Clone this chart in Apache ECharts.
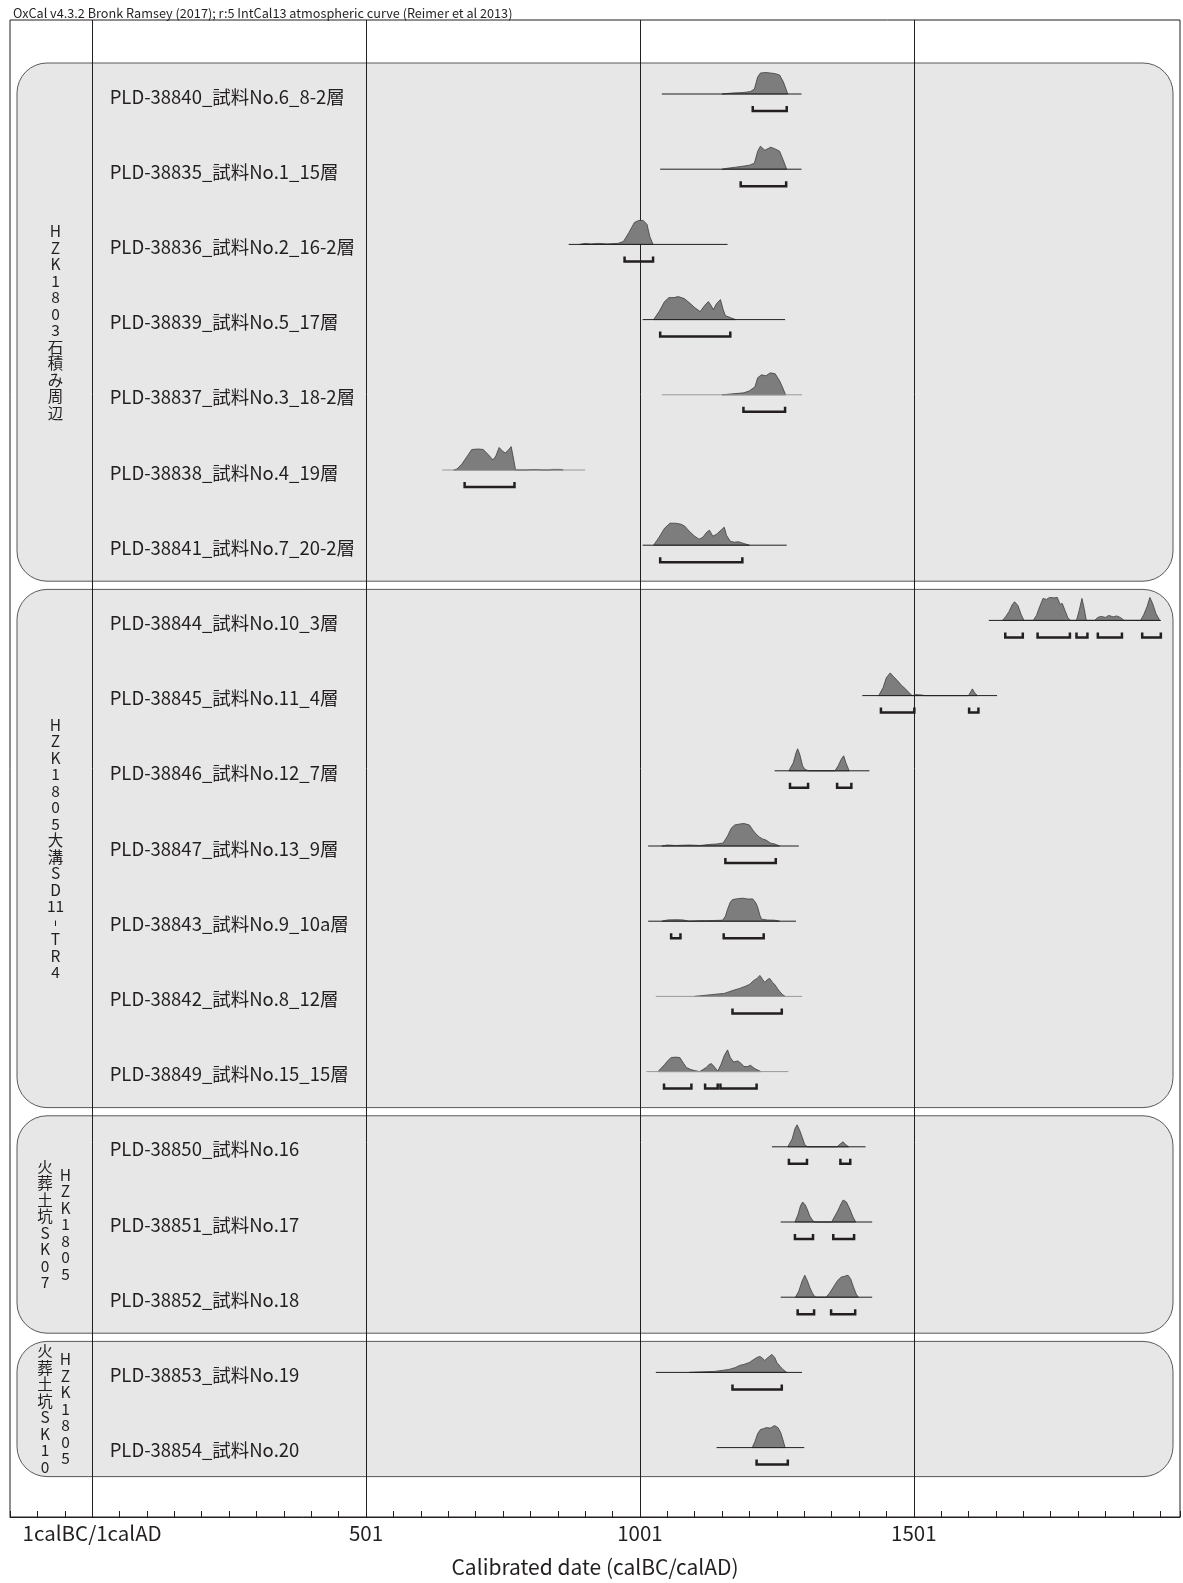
<!DOCTYPE html>
<html><head><meta charset="utf-8">
<script src="https://cdn.jsdelivr.net/npm/echarts@6.0.0/dist/echarts.min.js"></script>
<style>html,body{margin:0;padding:0;background:#fff}#c{width:1183px;height:1583px}</style>
</head><body><div id="c"></div>
<script>
// ---------- DATA ----------
const headerText = 'OxCal v4.3.2 Bronk Ramsey (2017); r:5 IntCal13 atmospheric curve (Reimer et al 2013)';
const axisTitle = 'Calibrated date (calBC/calAD)';
const tickValues = [0, 500, 1000, 1500];
const tickLabels = ['1calBC/1calAD', '501', '1001', '1501'];

const sampleNames = [
  'PLD-38840_試料No.6_8-2層', 'PLD-38835_試料No.1_15層', 'PLD-38836_試料No.2_16-2層',
  'PLD-38839_試料No.5_17層', 'PLD-38837_試料No.3_18-2層', 'PLD-38838_試料No.4_19層',
  'PLD-38841_試料No.7_20-2層', 'PLD-38844_試料No.10_3層', 'PLD-38845_試料No.11_4層',
  'PLD-38846_試料No.12_7層', 'PLD-38847_試料No.13_9層', 'PLD-38843_試料No.9_10a層',
  'PLD-38842_試料No.8_12層', 'PLD-38849_試料No.15_15層', 'PLD-38850_試料No.16',
  'PLD-38851_試料No.17', 'PLD-38852_試料No.18', 'PLD-38853_試料No.19', 'PLD-38854_試料No.20'
];
// plotted range of each distribution (calendar years)
const rangeStart = [1040, 1037, 870, 1005, 1040, 639, 1005, 1637, 1406, 1246, 1015, 1015, 1029, 1012, 1241, 1257, 1257, 1029, 1140];
const rangeEnd   = [1295, 1295, 1160, 1265, 1296, 900, 1268, 1951, 1652, 1419, 1290, 1285, 1296, 1271, 1412, 1424, 1424, 1296, 1300];

// probability density outlines: [year, relative height]
const dens38840 = [[1150,0],[1169,1],[1190,1.5],[1202,2.5],[1209,5],[1215,17],[1220,21],[1230,21.5],[1238,21],[1246,20.5],[1255,19],[1262,12],[1270,0]];
const dens38835 = [[1150,0],[1160,1],[1175,2],[1188,3],[1200,4],[1209,6],[1215,18],[1220,23],[1228,19],[1239,22],[1248,20],[1255,18],[1261,10],[1268,0]];
const dens38836 = [[890,0],[900,1],[910,0.5],[925,1],[940,0.5],[960,1],[970,3],[980,12],[990,22],[998,24],[1006,24],[1013,20],[1018,8],[1024,0]];
const dens38839 = [[1025,0],[1035,8],[1045,18],[1053,22],[1062,22],[1070,23],[1081,21],[1090,17],[1100,12],[1110,8],[1118,14],[1125,18],[1130,14],[1134,10],[1140,16],[1147,20],[1152,10],[1156,4],[1165,2],[1175,0]];
const dens38837 = [[1150,0],[1170,1],[1190,2],[1200,4],[1210,8],[1215,17],[1222,20],[1230,19],[1238,22],[1247,21],[1255,14],[1260,8],[1266,0]];
const dens38838 = [[660,0],[666,1],[675,6],[685,14],[693,20.5],[705,21],[714,20.5],[722,16],[732,10],[737,14],[743,22.5],[749,19],[754,17],[760,20],[765,23.4],[769,12],[773,0],[795,0],[800,0.5],[815,0.5],[820,0],[835,0],[840,0.6],[855,0.6],[860,0]];
const dens38841 = [[1025,0],[1035,8],[1045,17],[1055,22],[1065,22],[1075,21],[1082,19],[1090,14],[1100,9],[1108,6],[1115,8],[1122,13],[1127,15],[1133,9],[1140,11],[1148,15],[1154,18],[1158,10],[1165,4],[1172,3],[1180,3.5],[1188,2],[1200,0]];
const dens38844 = [[1662,0],[1668,4],[1674,9],[1680,16],[1684,18.6],[1690,15],[1696,6],[1701,0],[1718,0],[1724,5],[1730,14],[1736,22],[1742,21],[1748,23],[1756,22.5],[1762,23],[1767,16],[1771,17],[1776,10],[1781,3],[1786,0],[1797,0],[1802,10],[1807,22],[1811,12],[1815,0],[1830,0],[1836,3],[1842,4],[1850,3],[1856,5],[1864,3.5],[1870,4.5],[1877,3],[1884,0],[1914,0],[1920,6],[1926,14],[1931,23],[1936,17],[1942,7],[1949,0]];
const dens38845 = [[1436,0],[1444,8],[1450,18],[1457,22.7],[1463,19],[1470,15],[1478,10],[1485,6.7],[1491,3],[1497,0],[1503,1],[1516,0.5],[1520,0],[1600,0],[1607,6.7],[1611,3],[1616,0]];
const dens38846 = [[1272,0],[1280,8],[1285,18],[1288,22],[1292,16],[1297,5],[1301,1.5],[1308,0],[1356,0],[1362,5],[1368,12],[1372,15],[1376,8],[1382,0]];
const dens38847 = [[1040,0],[1050,1],[1065,0.5],[1090,1],[1110,0.5],[1125,1.5],[1140,2],[1152,3],[1160,10],[1167,18],[1173,21],[1182,22],[1190,22.5],[1200,21],[1206,16],[1212,12],[1218,9],[1224,7],[1230,6],[1238,3],[1246,2],[1255,0]];
const dens38843 = [[1040,0],[1051,1.3],[1065,1.5],[1078,1.3],[1090,0],[1110,0.5],[1124,0.5],[1151,1],[1156,5],[1160,12],[1165,19],[1169,21.6],[1178,22.5],[1188,23],[1197,22.2],[1206,22.3],[1212,18],[1215,14],[1219,6],[1222,2],[1233,1.2],[1246,1],[1255,0]];
const dens38842 = [[1100,0],[1117,1],[1135,2],[1154,3],[1170,6],[1182,8],[1192,10],[1200,12],[1208,16],[1214,18],[1219,21],[1224,17],[1228,14],[1233,17],[1237,18],[1242,14],[1246,12],[1251,8],[1255,5],[1260,2],[1265,0]];
const dens38849 = [[1033,0],[1045,7],[1051,11],[1057,14],[1065,14.5],[1073,14],[1080,8],[1085,4],[1093,2],[1100,1],[1109,0],[1115,2],[1121,4],[1126,7],[1130,8],[1134,6],[1137,4],[1142,0.5],[1148,7],[1154,16],[1160,21.7],[1165,14],[1171,9.7],[1179,10.7],[1185,8],[1190,5],[1196,5],[1202,6.3],[1207,4],[1212,2.3],[1221,0]];
const dens38850 = [[1270,0],[1278,8],[1283,18],[1287,22],[1292,16],[1296,10],[1301,2],[1306,0],[1360,0],[1366,3],[1371,5],[1376,2],[1381,0]];
const dens38851 = [[1283,0],[1289,8],[1293,16],[1297,20],[1302,17],[1306,12],[1310,6],[1316,1],[1320,0],[1350,0],[1356,6],[1362,12],[1367,18],[1371,22],[1377,20],[1384,12],[1389,5],[1394,0]];
const dens38852 = [[1284,0],[1290,6],[1296,16],[1301,22],[1306,16],[1310,10],[1315,4],[1320,0],[1340,0],[1346,4],[1353,10],[1360,16],[1367,20],[1374,21],[1380,22],[1385,18],[1390,10],[1395,3],[1399,0]];
const dens38853 = [[1090,0],[1110,0.5],[1136,1],[1150,2],[1163,3],[1175,5],[1182,7],[1190,8],[1200,10],[1208,13],[1214,15],[1219,16],[1224,14],[1228,12],[1234,15],[1241,18],[1246,15],[1250,10],[1256,6],[1261,3],[1268,0]];
const dens38854 = [[1205,0],[1210,6],[1215,14],[1220,18],[1226,19],[1231,20],[1238,19.5],[1246,22],[1252,20],[1257,15],[1261,8],[1265,0]];
const densities = [dens38840, dens38835, dens38836, dens38839, dens38837, dens38838, dens38841,
  dens38844, dens38845, dens38846, dens38847, dens38843, dens38842, dens38849,
  dens38850, dens38851, dens38852, dens38853, dens38854];

// 95.4% ranges (brackets)
const ranges = [
  [[1206,1268]], [[1184,1267]], [[972,1024]], [[1037,1165]], [[1189,1265]], [[680,771]], [[1037,1187]],
  [[1667,1699],[1726,1785],[1797,1817],[1836,1880],[1917,1951]],
  [[1440,1501],[1601,1618]], [[1274,1307],[1360,1386]], [[1156,1248]], [[1057,1074],[1153,1226]],
  [[1169,1259]], [[1044,1094],[1119,1142],[1147,1213]],
  [[1272,1305],[1366,1384]], [[1283,1316],[1353,1391]], [[1288,1318],[1349,1393]],
  [[1169,1259]], [[1213,1270]]
];

// groups (first row, last row, vertical label columns right→left)
const groupFirst = [0, 7, 14, 17];
const groupLast = [6, 13, 16, 18];
const groupColRight = ['H Z K 1 8 0 3 石 積 み 周 辺', 'H Z K 1 8 0 5 大 溝 S D 11 ︲ T R 4', 'H Z K 1 8 0 5', 'H Z K 1 8 0 5'];
const groupColLeft = ['', '', '火 葬 土 坑 S K 0 7', '火 葬 土 坑 S K 1 0'];

// ---------- STYLE / LAYOUT ----------
const FONT = '"Noto Sans CJK JP", "Noto Sans", sans-serif';
const INK = '#231f20';
const greyBaseline = new Set([4, 5, 12, 13]);
const boxTopPad = [31, 31, 31, 31];
const boxBottomPad = [36, 36, 36, 29];

const chart = echarts.init(document.getElementById('c'), null, {renderer: 'canvas'});

function renderBox(params, api) {
  const g = api.value(2);
  const cs = params.coordSys;
  const top = api.coord([0, groupFirst[g]])[1] - boxTopPad[g];
  const bottom = api.coord([0, groupLast[g]])[1] + boxBottomPad[g];
  const children = [{
    type: 'rect',
    shape: {x: cs.x + 7, y: top, width: cs.width - 14, height: bottom - top, r: 30},
    style: {fill: '#e6e7e6', stroke: '#58595b', lineWidth: 1}
  }];
  const cy = (top + bottom) / 2;
  const two = groupColLeft[g] !== '';
  const mk = (txt, x) => ({
    type: 'text',
    style: {x: x, y: cy, text: txt.split(' ').map(s => s === '︲' ? '{b|' + s + '}' : s).join('\n'), fill: INK,
      font: '15.5px ' + FONT, lineHeight: 16.5, align: 'center', verticalAlign: 'middle',
      rich: {b: {fontSize: 22, fontWeight: 'bold', lineHeight: 16.5, fill: INK, fontFamily: FONT}}}
  });
  children.push(mk(groupColRight[g], cs.x + (two ? 55.5 : 45.5)));
  if (two) children.push(mk(groupColLeft[g], cs.x + 35));
  return {type: 'group', children};
}

function renderGridLine(params, api) {
  const cs = params.coordSys;
  const x = Math.round(api.coord([api.value(0), 0])[0]) + 0.5;
  return {type: 'line', shape: {x1: x, y1: cs.y, x2: x, y2: cs.y + cs.height},
    style: {stroke: INK, lineWidth: 1}};
}

function renderSample(params, api) {
  const i = api.value(2);
  const base = api.coord([0, i]);
  const y0 = base[1];
  const children = [];
  children.push({type: 'text', style: {x: base[0] + 17.5, y: y0 + 2.5, text: sampleNames[i], fill: INK,
    font: '18.5px ' + FONT, align: 'left', verticalAlign: 'middle'}});
  const pts = densities[i].map(p => { const c = api.coord([p[0], i]); return [c[0], c[1] - p[1]]; });
  children.push({type: 'polygon', shape: {points: pts}, style: {fill: '#7d7d7d', stroke: '#3c3c3c', lineWidth: 0.8}});
  const a = api.coord([rangeStart[i], i]), b = api.coord([rangeEnd[i], i]);
  children.push({type: 'line', shape: {x1: a[0], y1: y0, x2: b[0], y2: y0},
    style: {stroke: greyBaseline.has(i) ? '#9a9a9a' : INK, lineWidth: 1}});
  const yb = y0 + 17;
  ranges[i].forEach(r => {
    const x1 = api.coord([r[0], i])[0], x2 = api.coord([r[1], i])[0];
    children.push({type: 'polyline', shape: {points: [[x1, yb - 5], [x1, yb], [x2, yb], [x2, yb - 5]]},
      style: {stroke: INK, lineWidth: 2.5, fill: null}});
  });
  return {type: 'group', children};
}

const ROW0 = 94, ROWH = 75.2, GTOP = 20, GBOT = 1517;

chart.setOption({
  animation: false,
  backgroundColor: '#fff',
  title: {text: headerText, left: 8, top: 2, textStyle: {fontSize: 12.7, fontWeight: 'normal', color: INK, fontFamily: FONT}},
  grid: {left: 10, right: 0, top: GTOP, bottom: 1583 - GBOT, show: true, borderColor: INK, borderWidth: 1, backgroundColor: '#fff'},
  xAxis: {
    type: 'value', min: -150, max: 1986, interval: 50,
    axisLine: {show: true, onZero: false, lineStyle: {color: INK, width: 1}},
    axisTick: {show: true, inside: true, length: 6, lineStyle: {color: INK, width: 1}},
    axisLabel: {fontSize: 20.5, color: INK, fontFamily: FONT, margin: 6,
      formatter: v => { const k = tickValues.indexOf(v); return k >= 0 ? tickLabels[k] : ''; }},
    splitLine: {show: false},
    name: axisTitle, nameLocation: 'middle', nameGap: 40,
    nameTextStyle: {fontSize: 21, color: INK, fontFamily: FONT}
  },
  yAxis: {type: 'value', inverse: true, show: false,
    min: (GTOP - ROW0) / ROWH, max: (GBOT - ROW0) / ROWH, splitLine: {show: false}},
  series: [
    {type: 'custom', z: 1, renderItem: renderBox, data: groupFirst.map((f, g) => [0, f, g])},
    {type: 'custom', z: 2, renderItem: renderGridLine, data: tickValues.map(v => [v, 0])},
    {type: 'custom', z: 3, renderItem: renderSample, data: sampleNames.map((n, i) => [rangeStart[i], i, i])}
  ]
});
</script>
</body></html>
